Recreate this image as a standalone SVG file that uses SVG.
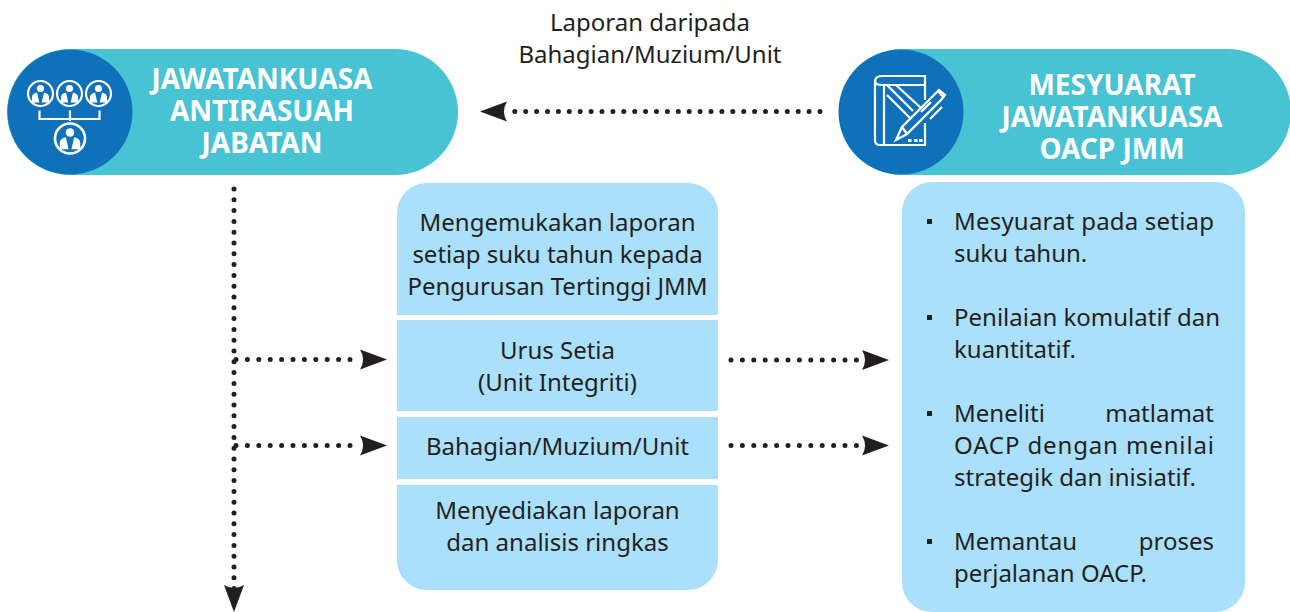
<svg xmlns="http://www.w3.org/2000/svg" width="1290" height="612" viewBox="0 0 1290 612">
<style>
text{font-family:"Noto Sans","Open Sans",sans-serif;font-size:24px;fill:#231f20;text-anchor:middle}
.h{font-size:28px;font-weight:700;fill:#fff}
.l{text-anchor:start}
.pill{fill:#48c3d3}
.disc{fill:#1071bb}
.box{fill:#aae0fb}
.sep{fill:#fff}
.dot{fill:none;stroke:#231f20;stroke-width:5;stroke-linecap:round;stroke-dasharray:0 11.4}
.ic{fill:none;stroke:#fff;stroke-width:2.2}
.icf{fill:#fff}
.ah{fill:#231f20}
</style>
<defs>
<g id="person">
<circle r="12.5" class="ic" cx="0" cy="0"/>
<circle cx="0" cy="-5" r="3.6" class="icf"/>
<path class="icf" d="M-8.5 9V3Q-8 0-3.5-1L-1.2 9ZM8.5 9V3Q8 0 3.5-1L1.2 9Z"/>
</g>
<path id="arrowR" class="ah" d="M0-10Q6 0 0 10L27 0Z"/>
</defs>
<g id="node-jawatankuasa">
<rect class="pill" x="7" y="49" width="451" height="126" rx="63"/>
<circle class="disc" cx="70" cy="112" r="62.5"/>
<use href="#person" x="40.500" y="93.500"/>
<use href="#person" x="69.500" y="93.500"/>
<use href="#person" x="98.500" y="93.500"/>
<use href="#person" transform="translate(70 138.500) scale(1.2)"/>
<path class="ic" d="M39.500 110.500V119H99.500V110.500M70 110.500V121"/>
<text class="h" x="262" y="89">JAWATANKUASA</text>
<text class="h" x="262" y="121">ANTIRASUAH</text>
<text class="h" x="262" y="153">JABATAN</text>
</g>
<g id="node-mesyuarat">
<path class="pill" d="M1290 49H902a63 63 0 0 0 0 126H1290Z"/>
<path class="pill" d="M1228 49a63 63 0 0 1 62 52V49Z" fill="#fff" style="fill:#fff"/>
<path class="pill" d="M1228 175a63 63 0 0 0 62-52V175Z" style="fill:#fff"/>
<circle class="disc" cx="901" cy="112" r="62.5"/>
<g class="ic">
<path d="M925 85V76H882Q875 76 875 82V140Q875 145 880 145H925V123M925 85H882Q875 85 875 81M884 85V145M925 85V100"/>
<path d="M887 85L913 111M887 95L910 118M896 85L921 108"/>
<path d="M896 140L902 127L935 94L939 90L945 95L941 100L907 134ZM902 127L907 134M921 112L931 102M930 119L942 107M938 91L944 98"/>
</g>
<rect class="icf" x="908" y="139" width="3.500" height="3"/>
<rect class="icf" x="914" y="139" width="3.500" height="3"/>
<rect class="icf" x="919" y="139" width="3.500" height="3"/>
<text class="h" x="1112" y="95">MESYUARAT</text>
<text class="h" x="1112" y="127">JAWATANKUASA</text>
<text class="h" x="1112" y="159">OACP JMM</text>
</g>
<g id="node-laporan-label">
<text x="650" y="31">Laporan daripada</text>
<text x="650" y="63">Bahagian/Muzium/Unit</text>
</g>
<g id="node-tengah">
<rect class="box" x="397" y="183" width="321" height="407" rx="30"/>
<rect class="sep" x="397" y="315" width="321" height="5"/>
<rect class="sep" x="397" y="411" width="321" height="6"/>
<rect class="sep" x="397" y="479" width="321" height="6"/>
<text x="557.500" y="231">Mengemukakan laporan</text>
<text x="557.500" y="263">setiap suku tahun kepada</text>
<text x="557.500" y="295">Pengurusan Tertinggi JMM</text>
<text x="557.500" y="359">Urus Setia</text>
<text x="557.500" y="391">(Unit Integriti)</text>
<text x="557.500" y="455">Bahagian/Muzium/Unit</text>
<text x="557.500" y="519">Menyediakan laporan</text>
<text x="557.500" y="551">dan analisis ringkas</text>
</g>
<g id="node-kanan">
<rect class="box" x="902" y="182" width="343" height="430" rx="30"/>
<rect x="927" y="219" width="5" height="5" class="ah"/>
<rect x="927" y="315" width="5" height="5" class="ah"/>
<rect x="927" y="411" width="5" height="5" class="ah"/>
<rect x="927" y="539" width="5" height="5" class="ah"/>
<text class="l" x="954" y="230" textLength="260">Mesyuarat pada setiap</text>
<text class="l" x="954" y="262">suku tahun.</text>
<text class="l" x="954" y="326">Penilaian komulatif dan</text>
<text class="l" x="954" y="358">kuantitatif.</text>
<text class="l" x="954" y="422">Meneliti</text>
<text x="1214" y="422" style="text-anchor:end">matlamat</text>
<text class="l" x="954" y="454" textLength="260">OACP dengan menilai</text>
<text class="l" x="954" y="486">strategik dan inisiatif.</text>
<text class="l" x="954" y="550">Memantau</text>
<text x="1214" y="550" style="text-anchor:end">proses</text>
<text class="l" x="954" y="582">perjalanan OACP.</text>
</g>
<g id="connectors">
<path class="dot" d="M820 111.500H509" style="stroke-dasharray:0 10.900"/>
<use href="#arrowR" transform="translate(507 111.500) rotate(180)"/>
<path class="dot" d="M234 189V592" style="stroke-dasharray:0 10.800"/>
<use href="#arrowR" transform="translate(234 585) rotate(90)"/>
<path class="dot" d="M236 359.500H358"/>
<use href="#arrowR" transform="translate(360 359.500)"/>
<path class="dot" d="M236 445.500H358"/>
<use href="#arrowR" transform="translate(360 445.500)"/>
<path class="dot" d="M731 360H860"/>
<use href="#arrowR" transform="translate(862 360)"/>
<path class="dot" d="M731 445.500H860"/>
<use href="#arrowR" transform="translate(862 445.500)"/>
</g>
</svg>
